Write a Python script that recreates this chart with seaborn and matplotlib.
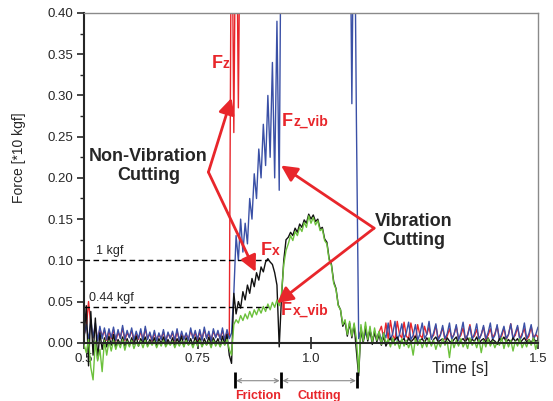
import numpy as np
import pandas as pd
import seaborn as sns
import matplotlib.pyplot as plt
from matplotlib.ticker import FixedLocator, FormatStrFormatter

sns.set_style("ticks")
plt.rcParams['font.family'] = ['Liberation Sans', 'DejaVu Sans']

# sampled force signals, in units of 0.001 (*10 kgf), one sample every 5 ms from 0.5 s
T0 = 0.5
DT = 0.005

# Fz, non-vibration cutting (None = off the top of the chart)
fz = [10, 18, 50, 22, 6, 20, 4, 17, 8, 15,
      3, 14, 5, 16, 2, 13, 6, 18, 3, 12,
      7, 15, 2, 11, 4, 14, 3, 17, 5, 11,
      2, 12, 3, 10, 5, 13, 2, 11, 6, 12,
      2, 14, 3, 11, 5, 10, 4, 15, 6, 12,
      3, 13, 4, 16, 6, 11, 3, 14, 7, 12,
      5, 15, 4, 13, 6,
      600, 255, 600, 285, 600] + [None] * 51 + [
      8, 15, 5, 12, 7, 14, 4, 10, 6, 13, 20, 5, 24,
      5, 27, 9, 4, 26, 10, 6, 25, 8, 5, 24, 11, 3, 22, 9, 6, 20, 10,
      19, 6, 9, 21, 5, 10, 18, 4, 8, 17, 6, 10, 20, 5, 9, 18, 4, 10,
      22, 6, 8, 16, 5, 10, 19, 4, 9, 17, 6, 11, 20, 5, 8, 18, 4, 10,
      23, 6, 9, 19, 5, 11, 17, 4, 8, 20, 6, 10, 7]

# Fz_vib, vibration cutting
fz_vib = [8, 22, 3, 28, 6, 24, 2, 20, 5, 18,
          4, 17, 6, 19, 3, 16, 5, 21, 4, 15,
          6, 18, 3, 14, 5, 17, 2, 20, 4, 13,
          3, 15, 2, 12, 4, 16, 1, 13, 5, 14,
          3, 17, 2, 14, 4, 12, 3, 18, 5, 15,
          4, 16, 3, 19, 5, 14, 2, 17, 6, 15,
          4, 18, 3, 16, 5,
          12, 60, 130, 100, 150, 110, 145, 120, 175, 150, 205,
          175, 235, 200, 265, 215, 300, 225, 340, 200, 390, 185,
          600] + [None] * 29 + [
          600, 290, 600, 270,
          5, 14, 3, 12, 6, 15, 4, 11, 5, 13, 3, 12, 6,
          24, 4, 11, 26, 3, 10, 23, 5, 12, 25, 4, 9, 22, 3, 11,
          24, 5, 10, 26, 4, 12, 23, 3, 9, 21, 5, 11, 24, 4, 10,
          22, 3, 12, 25, 5, 9, 20, 4, 11, 23, 3, 10, 21, 5, 12,
          24, 4, 9, 22, 3, 11, 20, 5, 10, 23, 4, 12, 21, 3, 9,
          24, 5, 11, 22, 4, 10, 19]

# Fx, non-vibration cutting
fx = [2, 45, -28, 38, -15, 30, -20, 12, -8, 6,
      -5, 8, -3, 10, -6, 4, -2, 7, -4, 5,
      -3, 6, -2, 8, -4, 5, -1, 7, -3, 4,
      -2, 6, -4, 5, -1, 7, -3, 4, -2, 6,
      -3, 5, -1, 8, -4, 6, -2, 5, -3, 7,
      -1, 6, -4, 5, -2, 7, -3, 6, -1, 5,
      -4, 8, -2, 10, -15,
      -25, 60, 35, 50, 42, 62, 52, 70, 60, 78, 68, 85, 76,
      92, 86, 98, 102, 98, 95, 85, 70, -5, 55, 100, 125, 128,
      134, 130, 139, 134, 144, 140, 149, 145, 156, 150,
      155, 147, 150, 138, 140, 126, 122, 102, 95, 74,
      66, 46, 40, 20, 26, 8, 24, 6, 22, -10,
      -40, 18, 0, 20, 2, 16, -2, 14, 1, 10,
      -3, 8, -4,
      2, 6, -1, 4, 7, 0, 3, 5, -2, 6, 1, 4, 8, -1, 3, 5, 0, 6, 2, -2,
      4, 7, 1, 3, 5, -1, 6, 2, 0, 4, 7, -2, 3, 5, 1, 6, 0, 4, 2, 7,
      -1, 3, 5, 1, 6, 0, 4, 2, -2, 5, 3, 7, 1, 4, 0, 6, 2, 5, -1, 3,
      6, 1, 4, 0, 5, 2, 3]

# Fx_vib, vibration cutting
fx_vib = [-2, -12, 4, -30, -45, 2, -22, -8, -35, 3,
          -15, 2, -10, 3, -8, 1, -6, 4, -9, 2,
          -5, 3, -7, 1, -4, 2, -6, 3, -5, 1,
          -3, 2, -6, 1, -4, 3, -5, 0, -3, 2,
          -6, 1, -4, 2, -5, 3, -3, 1, -6, 2,
          -4, 3, -5, 1, -3, 2, -6, 3, -4, 1,
          -5, 2, -3, 4, -8,
          -15, 22, 28, 24, 33, 27, 35, 29, 38, 31, 40, 34, 42,
          36, 44, 38, 47, 40, 49, 43, 52, 45, 60, 95, 112, 120,
          130, 124, 135, 130, 140, 135, 146, 140, 154, 145,
          152, 143, 148, 136, 138, 124, 120, 100, 94, 72,
          65, 45, 40, 22, 28, 10, 26, 8, 24, 5,
          -36, 22, 2, 25, 4, 20, 0, 18, 3, 14,
          -2, 12, -1,
          4, -5, 6, -3, 2, -7, 5, -4, 3, -6, 1, -15, 5, -3, 4, -6, 2, -5, 6, -4,
          3, -8, 1, -5, 5, -3, 2, -18, 4, -6, 3, -4, 5, -5, 1, -7, 6, -3, 2, -6,
          4, -12, 3, -5, 5, -4, 2, -6, 1, -3, 6, -7, 4, -5, 3, -10, 2, -4, 5, -6,
          1, -5, 4, -3, 6, -8, 2]

signals = ['Fz', 'Fz_vib', 'Fx', 'Fx_vib']
RED = '#e8262b'
colors = {'Fz': RED, 'Fz_vib': '#3a50a6', 'Fx': '#111111', 'Fx_vib': '#6cc13c'}

ref_levels = [0.10, 0.044]
ref_labels = ['1 kgf', '0.44 kgf']

# stage boundaries under the time axis [s]
stage_edges = [0.832, 0.934, 1.102]
stage_names = ['Friction', 'Cutting']

frames = []
for name, vals in zip(signals, [fz, fz_vib, fx, fx_vib]):
    v = np.array(vals, dtype=float) / 1000
    assert len(v) == 201, (name, len(v))
    t = T0 + DT * np.arange(len(v))
    seg = np.cumsum(np.isnan(v))
    frames.append(pd.DataFrame({'t': t, 'force': v, 'signal': name, 'seg': seg}))
df = pd.concat(frames).dropna()

fig = plt.figure(figsize=(5.53, 4.01), dpi=100)
ax = fig.add_axes([84 / 553, 1 - 384 / 401, 454 / 553, 371 / 401])

sns.lineplot(data=df, x='t', y='force', hue='signal', hue_order=signals,
             palette=colors, units='seg', estimator=None, sort=False,
             lw=1.0, legend=False, ax=ax)

ax.set_xlim(0.5, 1.5)
ax.set_ylim(-0.05, 0.40)

# axes frame
ax.spines['bottom'].set_position(('data', 0))
ax.spines['bottom'].set_linewidth(1.5)
ax.spines['left'].set_linewidth(1.5)
ax.spines['left'].set_bounds(0, 0.4)
ax.spines['right'].set_bounds(0, 0.4)
for s in ['top', 'right']:
    ax.spines[s].set_visible(True)
    ax.spines[s].set_color('#8a8a8a')
    ax.spines[s].set_linewidth(1.0)

ax.set_yticks(np.arange(0, 0.41, 0.05))
ax.yaxis.set_minor_locator(FixedLocator(np.arange(0.025, 0.4, 0.05)))
ax.yaxis.set_major_formatter(FormatStrFormatter('%.2f'))
ax.tick_params(axis='y', which='major', direction='out', length=5, width=1.2,
               labelsize=9.5, pad=3)
ax.tick_params(axis='y', which='minor', direction='out', length=3, width=1.0)
ax.set_xticks([0.5, 0.75, 1.0, 1.5])
ax.set_xticklabels(['0.5', '0.75', '1.0', '1.5'])
ax.tick_params(axis='x', direction='inout', length=8, width=1.2, labelsize=9.5, pad=3)

ax.set_xlabel('Time [s]', fontsize=11.5)
ax.xaxis.set_label_coords((460 - 84) / 454, (384 - 368) / 371)
ax.xaxis.label.set_va('center')
ax.set_ylabel('')
fig.text(19 / 553, 1 - 158 / 401, 'Force [*10 kgf]', rotation=90,
         ha='center', va='center', fontsize=10)

# reference force levels
ax.hlines(ref_levels, 0.5, 0.905, colors='black', lw=1.0, linestyles=(0, (4, 2.5)))
ax.text(0.527, 0.104, ref_labels[0], fontsize=9, va='bottom')
ax.text(0.512, 0.047, ref_labels[1], fontsize=9, va='bottom')


def force_label(x, y, sub):
    ax.text(x, y, 'F', color=RED, fontsize=13, fontweight='bold', va='baseline')
    ax.annotate(sub, xy=(x, y), xytext=(8.2, 0), textcoords='offset points',
                color=RED, fontsize=10, fontweight='bold', va='baseline')


force_label(0.781, 0.333, 'z')
force_label(0.936, 0.263, 'z_vib')
force_label(0.889, 0.107, 'x')
force_label(0.934, 0.034, 'x_vib')

# callouts
arrow = dict(arrowstyle='-|>,head_length=0.6,head_width=0.3', color=RED, lw=2.0,
             shrinkA=0, shrinkB=0, mutation_scale=16)
ax.text(0.642, 0.2145, 'Non-Vibration\nCutting', ha='center', va='center',
        fontsize=13, fontweight='bold', linespacing=1.2)
ax.annotate('', xy=(0.825, 0.297), xytext=(0.774, 0.207), arrowprops=arrow)
ax.annotate('', xy=(0.878, 0.086), xytext=(0.774, 0.207), arrowprops=arrow)
ax.text(1.2257, 0.1358, 'Vibration\nCutting', ha='center', va='center',
        fontsize=13, fontweight='bold', linespacing=1.2)
ax.annotate('', xy=(0.934, 0.215), xytext=(1.139, 0.139), arrowprops=arrow)
ax.annotate('', xy=(0.925, 0.048), xytext=(1.139, 0.139), arrowprops=arrow)

# stage markers below the time axis
ax.vlines(stage_edges, -0.055, -0.036, colors='black', lw=2.0, clip_on=False)
for a, b, name in zip(stage_edges[:-1], stage_edges[1:], stage_names):
    ax.annotate('', xy=(a, -0.046), xytext=(b, -0.046), annotation_clip=False,
                arrowprops=dict(arrowstyle='<->,head_length=0.3,head_width=0.15',
                                color='#8a8a8a', lw=0.8, shrinkA=1, shrinkB=1))
    ax.text((a + b) / 2, -0.064, name, ha='center', va='center', color=RED,
            fontsize=9, fontweight='bold', clip_on=False)

fig.savefig('out.png', dpi=100)
